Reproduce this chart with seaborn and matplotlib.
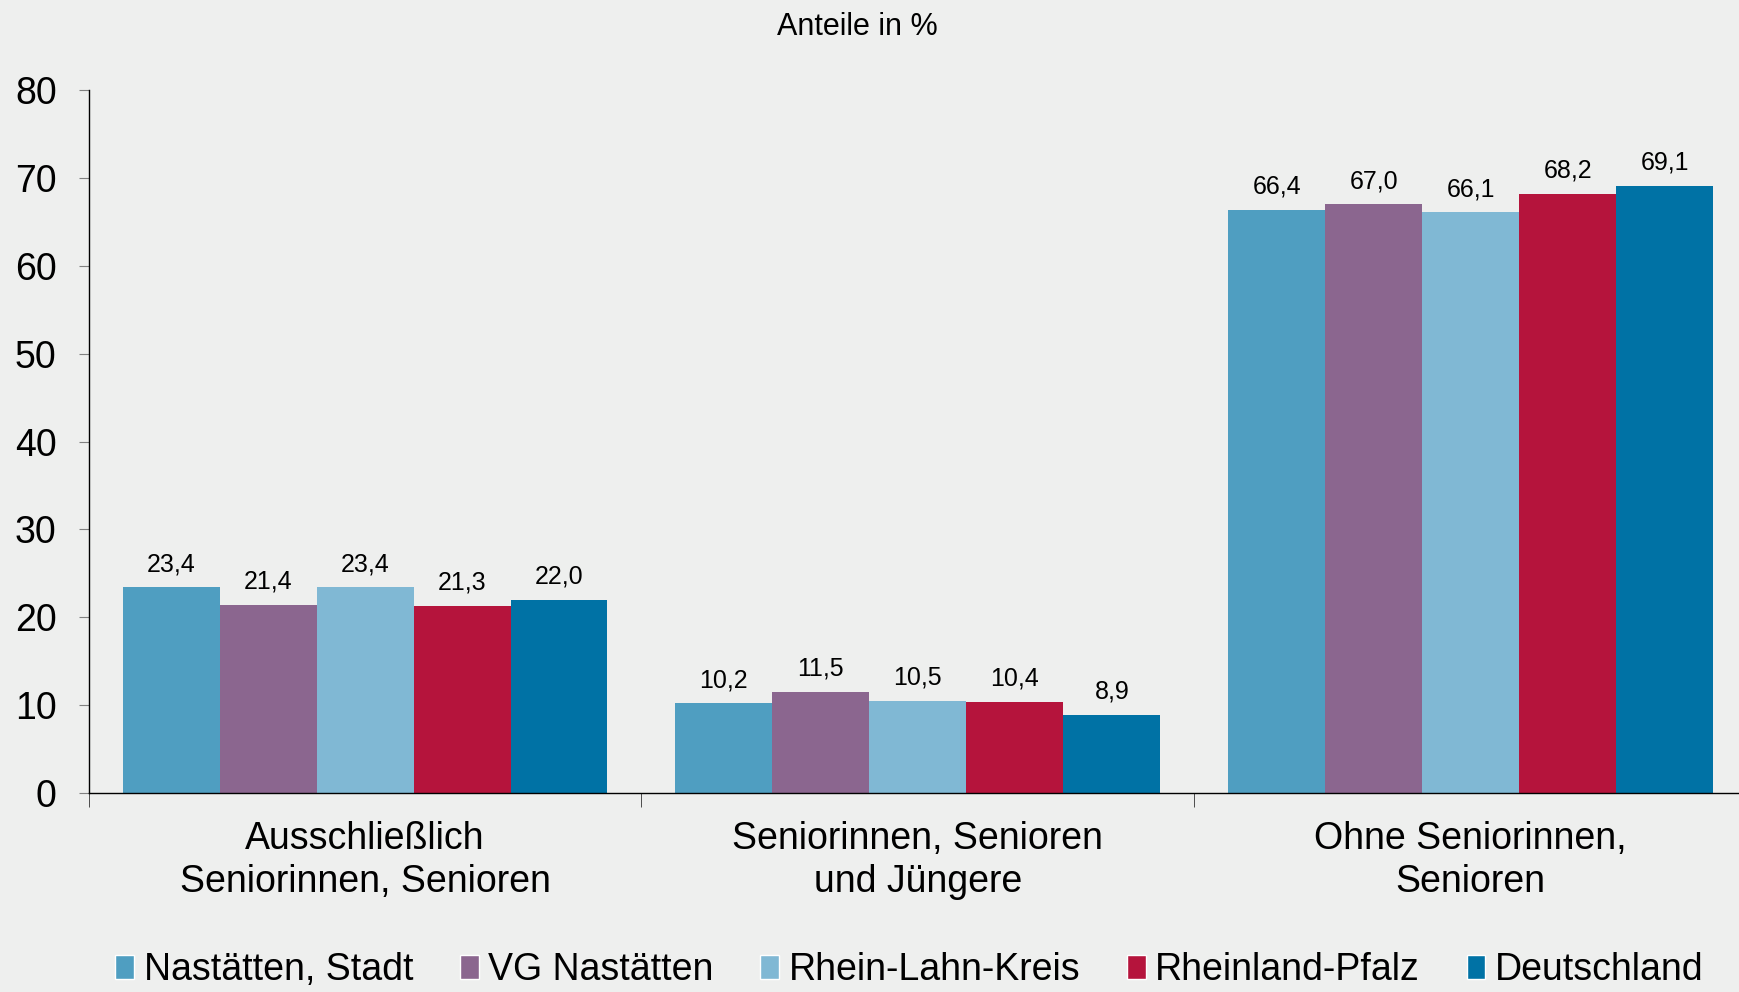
import matplotlib
matplotlib.use("Agg")
import matplotlib.pyplot as plt
import seaborn as sns
import pandas as pd
from matplotlib.patches import Patch

# Data
categories = ["Ausschließlich\nSeniorinnen, Senioren",
              "Seniorinnen, Senioren\nund Jüngere",
              "Ohne Seniorinnen,\nSenioren"]
regions = ["Nastätten, Stadt", "VG Nastätten", "Rhein-Lahn-Kreis", "Rheinland-Pfalz", "Deutschland"]
nastaetten_stadt = [23.4, 10.2, 66.4]
vg_nastaetten = [21.4, 11.5, 67.0]
rhein_lahn = [23.4, 10.5, 66.1]
rheinland_pfalz = [21.3, 10.4, 68.2]
deutschland = [22.0, 8.9, 69.1]
colors = ["#4F9EC1", "#8B668F", "#80B8D4", "#B5143C", "#0072A5"]
bg = "#EEEFEE"

series = [nastaetten_stadt, vg_nastaetten, rhein_lahn, rheinland_pfalz, deutschland]
rows = []
for reg, vals in zip(regions, series):
    for cat, v in zip(categories, vals):
        rows.append({"Kategorie": cat, "Region": reg, "Wert": v})
df = pd.DataFrame(rows)

sns.set_style("white")
plt.rcParams['font.family'] = ['Liberation Sans', 'DejaVu Sans']
plt.rcParams['text.color'] = 'black'
plt.rcParams['xtick.color'] = 'black'
plt.rcParams['ytick.color'] = 'black'

fig = plt.figure(figsize=(17.39, 9.92), dpi=100, facecolor=bg)
ax = fig.add_axes([0.051, 0.2006, 0.9536, 0.7084])
ax.set_facecolor(bg)

sns.barplot(data=df, x="Kategorie", y="Wert", hue="Region", order=categories,
            hue_order=regions, palette=colors, saturation=1, width=0.877,
            linewidth=0, ax=ax, legend=False)

for cont in ax.containers:
    ax.bar_label(cont, labels=[f"{v:.1f}".replace(".", ",") for v in cont.datavalues],
                 padding=8, fontsize=18, color="black")

ax.set_xlim(-0.5, 2.5)
ax.set_ylim(0, 80)
ax.set_yticks(range(0, 81, 10))
ax.tick_params(axis="y", labelsize=27, length=7, color="#808080", labelcolor="black",
               pad=16, left=True)
ax.set_xticks([0, 1, 2])
ax.set_xticklabels(categories, fontsize=27, linespacing=1.25)
ax.tick_params(axis="x", length=0, pad=20, labelcolor="black")
ax.set_xticks([-0.5, 0.5, 1.5, 2.5], minor=True)
ax.tick_params(axis="x", which="minor", length=10, color="#333333", bottom=True)
ax.set_xlabel("")
ax.set_ylabel("")
for s in ["top", "right"]:
    ax.spines[s].set_visible(False)
for s in ["left", "bottom"]:
    ax.spines[s].set_color("black")
    ax.spines[s].set_linewidth(1)

fig.text(0.493, 0.973, "Anteile in %", ha="center", va="center", fontsize=22)

handles = [Patch(facecolor=c, label=r) for c, r in zip(colors, regions)]
fig.legend(handles=handles, loc="center", bbox_to_anchor=(0.523, 0.022), ncol=5,
           frameon=False, fontsize=27, handlelength=0.5, handleheight=0.6,
           handletextpad=0.25, columnspacing=1.25)

fig.savefig("out.png", dpi=100, facecolor=bg)
